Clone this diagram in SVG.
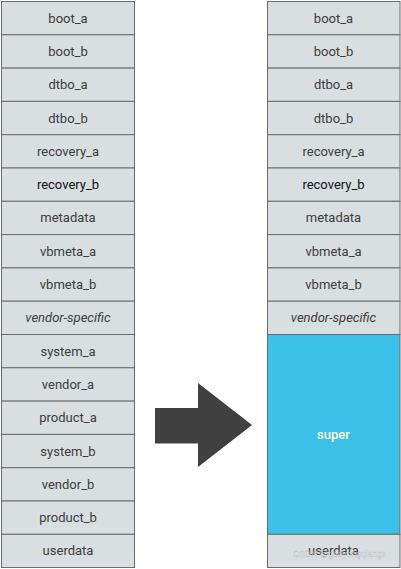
<svg xmlns="http://www.w3.org/2000/svg" width="401" height="569" viewBox="0 0 401 569">
<style>
.c{fill:#d9dee1;stroke:#6b6b6b;stroke-width:1}
.t{font-family:Roboto,"Liberation Sans",sans-serif;font-size:13px;fill:#3c3c3c;text-anchor:middle;dominant-baseline:central}
.i{font-style:italic}
.d{fill:#111}
.s{fill:#3bc0e8;stroke:#6b6b6b;stroke-width:1}
.w{fill:#fff;font-weight:500}
.wm{font-family:"Liberation Sans",sans-serif;font-size:9.5px;fill:#f2f2f2;fill-opacity:0.7;stroke:#8a8a8a;stroke-opacity:0.5;stroke-width:0.35}
</style>
<rect width="401" height="569" fill="#fff"/>
<g id="left">
<g id="l-boot_a"><rect class="c" x="1.5" y="1.5" width="133" height="33.3"/><text class="t" x="68" y="18">boot_a</text></g>
<g id="l-boot_b"><rect class="c" x="1.5" y="34.8" width="133" height="33.3"/><text class="t" x="68" y="51.4">boot_b</text></g>
<g id="l-dtbo_a"><rect class="c" x="1.5" y="68.1" width="133" height="33.3"/><text class="t" x="68" y="84.7">dtbo_a</text></g>
<g id="l-dtbo_b"><rect class="c" x="1.5" y="101.4" width="133" height="33.3"/><text class="t" x="68" y="118">dtbo_b</text></g>
<g id="l-recovery_a"><rect class="c" x="1.5" y="134.7" width="133" height="33.3"/><text class="t" x="68" y="151.3">recovery_a</text></g>
<g id="l-recovery_b"><rect class="c" x="1.5" y="168" width="133" height="33.3"/><text class="t d" x="68" y="184.6">recovery_b</text></g>
<g id="l-metadata"><rect class="c" x="1.5" y="201.3" width="133" height="33.3"/><text class="t" x="68" y="217.9">metadata</text></g>
<g id="l-vbmeta_a"><rect class="c" x="1.5" y="234.6" width="133" height="33.3"/><text class="t" x="68" y="251.2">vbmeta_a</text></g>
<g id="l-vbmeta_b"><rect class="c" x="1.5" y="267.9" width="133" height="33.3"/><text class="t" x="68" y="284.5">vbmeta_b</text></g>
<g id="l-vendor-specific"><rect class="c" x="1.5" y="301.2" width="133" height="33.3"/><text class="t i" x="68" y="317.8">vendor-specific</text></g>
<g id="l-system_a"><rect class="c" x="1.5" y="334.5" width="133" height="33.3"/><text class="t" x="68" y="351.1">system_a</text></g>
<g id="l-vendor_a"><rect class="c" x="1.5" y="367.8" width="133" height="33.3"/><text class="t" x="68" y="384.4">vendor_a</text></g>
<g id="l-product_a"><rect class="c" x="1.5" y="401.1" width="133" height="33.3"/><text class="t" x="68" y="417.7">product_a</text></g>
<g id="l-system_b"><rect class="c" x="1.5" y="434.4" width="133" height="33.3"/><text class="t" x="68" y="451">system_b</text></g>
<g id="l-vendor_b"><rect class="c" x="1.5" y="467.7" width="133" height="33.3"/><text class="t" x="68" y="484.3">vendor_b</text></g>
<g id="l-product_b"><rect class="c" x="1.5" y="501" width="133" height="33.3"/><text class="t" x="68" y="517.6">product_b</text></g>
<g id="l-userdata"><rect class="c" x="1.5" y="534.3" width="133" height="33.2"/><text class="t" x="68" y="550.9">userdata</text></g>
</g>
<g id="connectors">
<polygon points="155,408 198,408 198,383 252,425 198,467 198,443.5 155,443.5" fill="#404040"/>
</g>
<g id="right">
<g id="r-boot_a"><rect class="c" x="267.5" y="1.5" width="132.5" height="33.3"/><text class="t" x="333.5" y="18">boot_a</text></g>
<g id="r-boot_b"><rect class="c" x="267.5" y="34.8" width="132.5" height="33.3"/><text class="t" x="333.5" y="51.4">boot_b</text></g>
<g id="r-dtbo_a"><rect class="c" x="267.5" y="68.1" width="132.5" height="33.3"/><text class="t" x="333.5" y="84.7">dtbo_a</text></g>
<g id="r-dtbo_b"><rect class="c" x="267.5" y="101.4" width="132.5" height="33.3"/><text class="t" x="333.5" y="118">dtbo_b</text></g>
<g id="r-recovery_a"><rect class="c" x="267.5" y="134.7" width="132.5" height="33.3"/><text class="t" x="333.5" y="151.3">recovery_a</text></g>
<g id="r-recovery_b"><rect class="c" x="267.5" y="168" width="132.5" height="33.3"/><text class="t d" x="333.5" y="184.6">recovery_b</text></g>
<g id="r-metadata"><rect class="c" x="267.5" y="201.3" width="132.5" height="33.3"/><text class="t" x="333.5" y="217.9">metadata</text></g>
<g id="r-vbmeta_a"><rect class="c" x="267.5" y="234.6" width="132.5" height="33.3"/><text class="t" x="333.5" y="251.2">vbmeta_a</text></g>
<g id="r-vbmeta_b"><rect class="c" x="267.5" y="267.9" width="132.5" height="33.3"/><text class="t" x="333.5" y="284.5">vbmeta_b</text></g>
<g id="r-vendor-specific"><rect class="c" x="267.5" y="301.2" width="132.5" height="33.3"/><text class="t i" x="333.5" y="317.8">vendor-specific</text></g>
<g id="r-super"><rect class="s" x="267.5" y="334.5" width="132.5" height="199.8"/><text class="t w" x="333.5" y="434.4">super</text></g>
<g id="r-userdata"><rect class="c" x="267.5" y="534.3" width="132.5" height="33.2"/><text class="t" x="333.5" y="550.9">userdata</text></g>
</g>
<text class="wm" x="293" y="557" textLength="93" lengthAdjust="spacingAndGlyphs">CSDN @gaoyongqiangx</text>
</svg>
